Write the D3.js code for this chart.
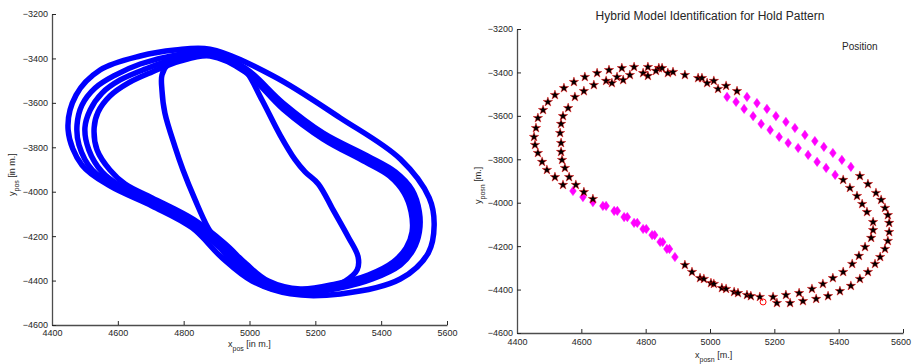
<!DOCTYPE html>
<html><head><meta charset="utf-8">
<script src="https://cdn.jsdelivr.net/npm/d3@7"></script>
<style>
body{margin:0;background:#fff}
text{font-family:"Liberation Sans",Arial,Helvetica,sans-serif;fill:#262626}
</style></head>
<body><svg id="c" width="912" height="364"></svg>
<script>
// ---------- data ----------
const xTicks=[4400,4600,4800,5000,5200,5400,5600];
const yTicks=[-3200,-3400,-3600,-3800,-4000,-4200,-4400,-4600];

// left chart: laps of the flown hold pattern [x, y]
const lap0=[[4880,-3358],[5072,-3479],[5276,-3668],[5458,-3853],[5546,-4028],[5561,-4150],[5543,-4276],[5458,-4393],[5276,-4460],[5124,-4460],[5008,-4402],[4917,-4298],[4826,-4163],[4704,-4064],[4576,-3974],[4491,-3880],[4449,-3722],[4473,-3565],[4546,-3452],[4668,-3389],[4774,-3362]];
const lap1=[[4880,-3371],[4987,-3443],[5102,-3601],[5224,-3736],[5358,-3839],[5443,-3911],[5494,-3992],[5516,-4091],[5516,-4181],[5497,-4262],[5458,-4330],[5373,-4393],[5276,-4433],[5154,-4456],[5038,-4420],[4972,-4343],[4911,-4253],[4826,-4150],[4704,-4051],[4592,-3974],[4522,-3902],[4482,-3790],[4476,-3700],[4491,-3610],[4531,-3533],[4592,-3475],[4668,-3425],[4774,-3385]];
const lap2=[[4880,-3380],[4987,-3452],[5102,-3614],[5224,-3749],[5355,-3853],[5434,-3920],[5482,-3997],[5504,-4091],[5507,-4181],[5488,-4258],[5449,-4325],[5367,-4384],[5269,-4424],[5154,-4447],[5048,-4411],[4981,-4334],[4917,-4244],[4829,-4141],[4704,-4042],[4607,-3974],[4552,-3911],[4512,-3812],[4500,-3713],[4516,-3632],[4552,-3556],[4607,-3497],[4683,-3448],[4783,-3398]];
const lap3=[[4880,-3389],[4987,-3461],[5102,-3628],[5224,-3763],[5352,-3866],[5425,-3929],[5470,-4006],[5491,-4091],[5494,-4181],[5476,-4253],[5437,-4316],[5361,-4375],[5263,-4415],[5154,-4438],[5057,-4402],[4990,-4325],[4926,-4235],[4832,-4127],[4704,-4028],[4622,-3965],[4576,-3902],[4537,-3812],[4528,-3713],[4540,-3641],[4576,-3569],[4631,-3511],[4704,-3461],[4789,-3412]];
const entryA=[[4804,-3389],[4753,-3425],[4734,-3475],[4734,-3542],[4743,-3646],[4774,-3799],[4798,-3902],[4835,-4037],[4874,-4163],[4917,-4262],[4956,-4330],[5017,-4388],[5093,-4433]];
const entryB=[[4941,-3398],[4987,-3452],[5038,-3587],[5093,-3745],[5139,-3857],[5169,-3911],[5209,-3965],[5254,-4082],[5300,-4204],[5330,-4294],[5327,-4352],[5291,-4402],[5230,-4438]];

// right chart: identified positions, mode 1 (stars)
const starOuterLeft=[[4841,-3380],[4807,-3375],[4764,-3375],[4726,-3380],[4686,-3389],[4649,-3403],[4611,-3421],[4577,-3444],[4546,-3472],[4518,-3504],[4496,-3536],[4481,-3573],[4465,-3610],[4459,-3656],[4453,-3697],[4456,-3734],[4465,-3771],[4478,-3812],[4493,-3849],[4518,-3882],[4543,-3918]];
const starInnerLeft=[[4549,-3840],[4562,-3882],[4583,-3918],[4608,-3951],[4636,-3983],[4540,-3803],[4537,-3766],[4537,-3725],[4534,-3679],[4537,-3637],[4543,-3601],[4559,-3564],[4580,-3513],[4608,-3486],[4639,-3458],[4677,-3439],[4695,-3449],[4711,-3421],[4730,-3435],[4751,-3412],[4792,-3403],[4807,-3416],[4832,-3393]];
const starTop=[[4851,-3380],[4869,-3403],[4885,-3398],[4922,-3412],[4963,-3426],[4975,-3426],[4991,-3449],[5012,-3439],[5025,-3476],[5050,-3462],[5084,-3486]];
const starInnerRight=[[5414,-3895],[5435,-3932],[5457,-3969],[5473,-4006],[5488,-4043],[5507,-4089],[5507,-4126],[5501,-4162],[5482,-4204],[5463,-4245],[5442,-4282],[5414,-4319],[5382,-4347],[5351,-4374],[5317,-4397],[5277,-4416],[5236,-4425],[5196,-4434],[5155,-4434],[5115,-4425],[5075,-4411],[5037,-4393],[5003,-4370],[4969,-4347],[4944,-4319],[4922,-4287],
[4981,-4351],[5012,-4374],[5050,-4397],[5087,-4416],[5127,-4430]];
const starOuterRight=[[5466,-3877],[5491,-3914],[5516,-3955],[5532,-3987],[5544,-4024],[5553,-4057],[5557,-4093],[5557,-4135],[5553,-4176],[5544,-4213],[5529,-4250],[5513,-4282],[5491,-4319],[5466,-4351],[5438,-4383],[5404,-4407],[5367,-4430],[5330,-4443],[5289,-4453],[5249,-4462],[5208,-4462]];
// mode 2 (diamonds)
const diaUpperOuter=[[5115,-3513],[5146,-3541],[5177,-3568],[5205,-3601],[5236,-3628],[5264,-3656],[5295,-3688],[5326,-3716],[5354,-3743],[5382,-3771],[5410,-3803],[5438,-3835]];
const diaUpperInner=[[5053,-3513],[5081,-3536],[5106,-3568],[5134,-3601],[5159,-3637],[5187,-3665],[5215,-3697],[5243,-3725],[5274,-3748],[5305,-3780],[5333,-3812],[5361,-3840],[5389,-3872]];
const diaLower=[[4574,-3946],[4605,-3974],[4636,-3997],[4667,-4015],[4702,-4038],[4733,-4066],[4764,-4093],[4792,-4121],[4820,-4149],[4845,-4181],[4866,-4213],[4891,-4250],
[4677,-4015],[4712,-4038],[4743,-4066],[4774,-4093],[4802,-4121],[4828,-4149],[4853,-4181],[4874,-4213]];
const startPt=[[5165,-4457]];

const titleText="Hybrid Model Identification for Hold Pattern";
const legendText="Position";

// ---------- drawing ----------
const svg=d3.select("#c");
svg.append("rect").attr("width",912).attr("height",364).attr("fill","#fff");
const fmt=d=>d<0?"\u2212"+Math.abs(d):String(d);

function makeAxes(x0,x1,yTop,yBot,xPad){
  const x=d3.scaleLinear().domain([4400,5600]).range([x0,x1]);
  const y=d3.scaleLinear().domain([-4600,-3200]).range([yBot,yTop]);
  const gx=svg.append("g").attr("transform",`translate(0,${yBot})`)
    .call(d3.axisBottom(x).tickValues(xTicks).tickSizeInner(-4).tickSizeOuter(0).tickPadding(xPad).tickFormat(fmt));
  const gy=svg.append("g").attr("transform",`translate(${x0},0)`)
    .call(d3.axisLeft(y).tickValues(yTicks).tickSizeInner(-4).tickSizeOuter(0).tickPadding(4).tickFormat(fmt));
  [gx,gy].forEach(g=>{
    g.select(".domain").attr("stroke","#4d4d4d").attr("stroke-width",1.3);
    g.selectAll(".tick line").attr("stroke","#262626");
    g.selectAll(".tick text").attr("font-size",9).attr("fill","#262626")
      .attr("font-family","Liberation Sans, Arial, sans-serif");
  });
  return {x,y,gx};
}

// Left chart
const L=makeAxes(52,447,14,325,5);
const lineL=d3.line().x(d=>L.x(d[0])).y(d=>L.y(d[1]));
const gL=svg.append("g");
[lap0,lap1,lap2,lap3].forEach(lp=>{
  gL.append("path").attr("d",lineL.curve(d3.curveCatmullRomClosed.alpha(0.5))(lp))
    .attr("fill","none").attr("stroke","#0000ff").attr("stroke-width",5.5).attr("stroke-linejoin","round");
});
[entryA,entryB].forEach(lp=>{
  gL.append("path").attr("d",lineL.curve(d3.curveCatmullRom.alpha(0.5))(lp))
    .attr("fill","none").attr("stroke","#0000ff").attr("stroke-width",5.5).attr("stroke-linecap","round");
});

// Left labels
const xl=svg.append("text").attr("x",228).attr("y",347).attr("font-size",9);
xl.append("tspan").text("x");
xl.append("tspan").attr("dy",4).attr("font-size",7).text("pos");
xl.append("tspan").attr("dy",-4).text(" [in m.]");
const yl=svg.append("text").attr("transform","translate(15,196) rotate(-90)").attr("font-size",9);
yl.append("tspan").text("y");
yl.append("tspan").attr("dy",4).attr("font-size",7).text("pos");
yl.append("tspan").attr("dy",-4).text(" [in m.]");

// Right chart
const R=makeAxes(517,903,29,333,5.5);
// keep the last right-hand tick label inside the page
R.gx.selectAll(".tick").filter(d=>d===5600).select("text").attr("dx",-2.5);
const diamond={draw(ctx,size){const w=3.3,h=4.6;ctx.moveTo(0,-h);ctx.lineTo(w,0);ctx.lineTo(0,h);ctx.lineTo(-w,0);ctx.closePath();}};
const diamondPts=[...diaUpperOuter,...diaUpperInner,...diaLower];
const starPts=[...starOuterLeft,...starInnerLeft,...starTop,...starInnerRight,...starOuterRight];
svg.append("g").selectAll("path").data(diamondPts).join("path")
  .attr("transform",d=>`translate(${R.x(d[0])},${R.y(d[1])})`)
  .attr("d",d3.symbol(diamond)()).attr("fill","#ff00ff").attr("stroke","#ff00ff").attr("stroke-width",0.6);
svg.append("g").selectAll("path").data(starPts).join("path")
  .attr("transform",d=>`translate(${R.x(d[0])},${R.y(d[1])})`)
  .attr("d",d3.symbol(d3.symbolStar,28)()).attr("fill","#000").attr("stroke","#ff0000").attr("stroke-width",0.45);
svg.append("g").selectAll("circle").data(startPt).join("circle")
  .attr("cx",d=>R.x(d[0])).attr("cy",d=>R.y(d[1])).attr("r",3)
  .attr("fill","none").attr("stroke","#ff0000").attr("stroke-width",1);

svg.append("text").attr("x",710).attr("y",20).attr("text-anchor","middle").attr("font-size",12).text(titleText);
svg.append("text").attr("x",842).attr("y",50).attr("font-size",10).text(legendText);
const xr=svg.append("text").attr("x",695).attr("y",358).attr("font-size",9);
xr.append("tspan").text("x");
xr.append("tspan").attr("dy",3.5).attr("font-size",7).text("posn");
xr.append("tspan").attr("dy",-3.5).text(" [m.]");
const yr=svg.append("text").attr("transform","translate(481,204) rotate(-90)").attr("font-size",9);
yr.append("tspan").text("y");
yr.append("tspan").attr("dy",4).attr("font-size",7).text("posn");
yr.append("tspan").attr("dy",-4).text(" [m.]");
</script></body></html>
